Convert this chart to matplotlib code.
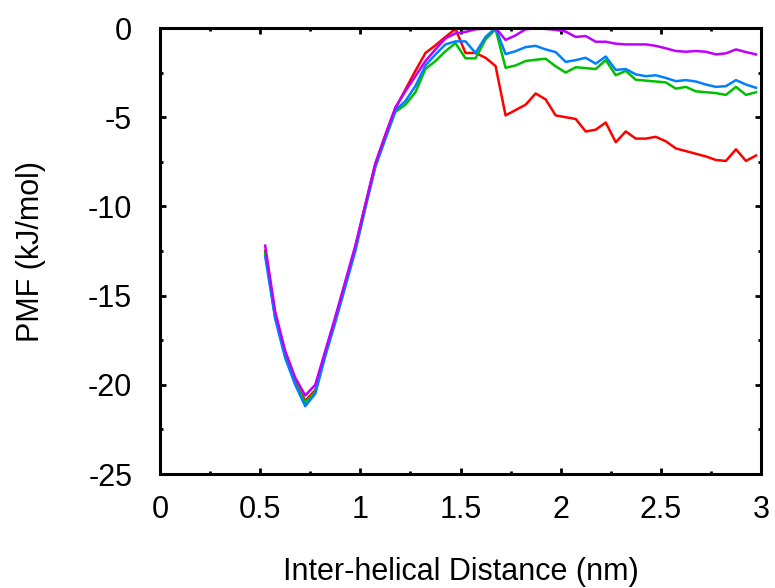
import matplotlib
matplotlib.use("Agg")
import matplotlib.pyplot as plt
from matplotlib.ticker import MultipleLocator

plt.rcParams["font.family"] = ["Liberation Sans", "DejaVu Sans"]

# inter-helical distance (nm), shared by all four PMF curves
distance = [
    0.525, 0.575, 0.625, 0.675, 0.725, 0.775, 0.825, 0.875, 0.925, 0.975,
    1.025, 1.075, 1.125, 1.175, 1.225, 1.275, 1.325, 1.375, 1.425, 1.475,
    1.525, 1.575, 1.625, 1.675, 1.725, 1.775, 1.825, 1.875, 1.925, 1.975,
    2.025, 2.075, 2.125, 2.175, 2.225, 2.275, 2.325, 2.375, 2.425, 2.475,
    2.525, 2.575, 2.625, 2.675, 2.725, 2.775, 2.825, 2.875, 2.925, 2.975,
]

pmf_red = [
    -12.5, -16.1, -18.3, -19.8, -20.9, -20.3, -18.2, -16.3, -14.3, -12.3,
    -9.9, -7.6, -6.0, -4.5, -3.45, -2.4, -1.4, -0.97, -0.5, -0.05,
    -1.4, -1.4, -1.67, -2.13, -4.9, -4.6, -4.3, -3.67, -4.0, -4.9,
    -5.0, -5.1, -5.8, -5.7, -5.3, -6.4, -5.8, -6.2, -6.2, -6.1,
    -6.35, -6.75, -6.9, -7.05, -7.2, -7.4, -7.45, -6.8, -7.45, -7.15,
]

pmf_green = [
    -12.6, -16.2, -18.4, -19.9, -21.0, -20.4, -18.3, -16.4, -14.4, -12.4,
    -10.0, -7.7, -6.2, -4.7, -4.3, -3.6, -2.3, -1.85, -1.3, -0.85,
    -1.7, -1.7, -0.64, -0.07, -2.23, -2.1, -1.85, -1.78, -1.72, -2.15,
    -2.5, -2.2, -2.25, -2.3, -1.8, -2.65, -2.4, -2.9, -2.95, -3.0,
    -3.05, -3.4, -3.3, -3.55, -3.6, -3.65, -3.75, -3.3, -3.75, -3.6,
]

pmf_blue = [
    -12.8, -16.3, -18.5, -20.0, -21.2, -20.5, -18.4, -16.5, -14.5, -12.5,
    -10.1, -7.8, -6.2, -4.6, -4.1, -3.25, -2.1, -1.48, -0.92, -0.75,
    -0.75, -1.4, -0.5, 0.0, -1.46, -1.3, -1.07, -1.0, -1.2, -1.35,
    -1.9, -1.8, -1.67, -2.0, -1.6, -2.35, -2.3, -2.6, -2.7, -2.65,
    -2.8, -2.98, -2.92, -3.0, -3.17, -3.3, -3.26, -2.92, -3.17, -3.35,
]

pmf_purple = [
    -12.2, -15.9, -18.1, -19.6, -20.6, -20.0, -18.1, -16.2, -14.2, -12.2,
    -9.9, -7.6, -6.0, -4.45, -3.54, -2.7, -1.85, -1.2, -0.58, -0.3,
    -0.22, -0.07, -0.04, 0.0, -0.67, -0.41, -0.07, -0.02, -0.05, -0.1,
    -0.2, -0.5, -0.45, -0.77, -0.77, -0.88, -0.92, -0.92, -0.92, -1.0,
    -1.14, -1.29, -1.33, -1.29, -1.33, -1.48, -1.42, -1.2, -1.35, -1.48,
]

fig = plt.figure(figsize=(7.75, 5.88), dpi=100)
ax = fig.add_axes([160 / 775, 1 - 474 / 588, 601 / 775, 446 / 588])

ax.plot(distance, pmf_red, color="#ff0000", lw=1.8)
ax.plot(distance, pmf_green, color="#00c000", lw=1.8)
ax.plot(distance, pmf_blue, color="#0080ff", lw=1.8)
ax.plot(distance, pmf_purple, color="#c000ff", lw=1.8)

ax.set_xlim(0, 3)
ax.set_ylim(-25, 0)
ax.xaxis.set_major_locator(MultipleLocator(0.5))
ax.xaxis.set_minor_locator(MultipleLocator(0.25))
ax.yaxis.set_major_locator(MultipleLocator(5))
ax.yaxis.set_minor_locator(MultipleLocator(2.5))
ax.xaxis.set_major_formatter(plt.FuncFormatter(lambda v, p: f"{v:g}"))
ax.yaxis.set_major_formatter(plt.FuncFormatter(lambda v, p: f"{v:g}"))

for s in ax.spines.values():
    s.set_linewidth(2.2)
ax.tick_params(which="both", direction="in", top=True, right=True, width=2, labelsize=22)
ax.tick_params(which="major", length=4.5)
ax.tick_params(which="minor", length=2.5)
ax.tick_params(axis="x", which="major", pad=15)
ax.tick_params(axis="y", which="major", pad=20)

ax.set_xlabel("Inter-helical Distance (nm)", fontsize=22, labelpad=23)
ax.set_ylabel("PMF (kJ/mol)", fontsize=22, labelpad=30)

fig.savefig("out.png", dpi=100)
